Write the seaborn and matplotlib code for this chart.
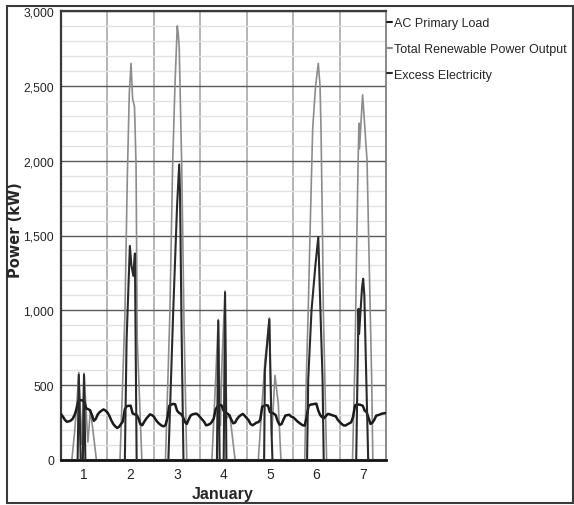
import matplotlib
matplotlib.use("Agg")
import matplotlib.pyplot as plt
from matplotlib import font_manager
from matplotlib.patches import Rectangle
from matplotlib.ticker import MultipleLocator, FixedLocator, FuncFormatter
import seaborn as sns
import pandas as pd

# ---------------- data ----------------
day_labels = ["1", "2", "3", "4", "5", "6", "7"]
series_names = ["AC Primary Load", "Total Renewable Power Output", "Excess Electricity"]

# AC primary load, hourly, hour 0 .. 168 (kW)
load_kw = [
    305, 290, 268, 256, 258, 263, 275, 300, 340, 397, 400, 398, 392, 345, 340, 332, 300, 262, 275, 305, 320, 330, 338, 330,
    318, 295, 265, 241, 225, 214, 222, 240, 258, 340, 360, 362, 363, 312, 305, 303, 280, 240, 232, 255, 275, 290, 305, 300,
    290, 268, 252, 240, 230, 225, 232, 280, 363, 370, 375, 372, 330, 315, 308, 290, 255, 241, 270, 297, 305, 308, 310, 300,
    285, 270, 255, 232, 235, 241, 255, 280, 340, 360, 368, 365, 330, 318, 310, 300, 270, 245, 250, 274, 290, 300, 308, 295,
    280, 265, 240, 232, 240, 250, 252, 270, 355, 363, 366, 364, 320, 315, 310, 300, 260, 235, 240, 270, 297, 300, 302, 290,
    285, 274, 260, 250, 240, 232, 230, 290, 363, 370, 372, 375, 376, 330, 300, 285, 280, 295, 308, 305, 300, 296, 292, 270,
    255, 242, 232, 230, 238, 245, 252, 290, 365, 372, 370, 368, 362, 330, 319, 280, 241, 250, 270, 297, 300, 305, 310, 312,
    314,
]
load_hours = list(range(len(load_kw)))

# Total renewable power output (hour, kW)
renew_hours = [0, 5.6, 7.0, 8.2, 9.2, 10.0, 10.8, 11.9, 13.9, 15.2, 16.5, 18.3,
               30.5, 33.0, 34.3, 35.3, 36.2, 37.0, 38.0, 38.8, 39.4, 41.8,
               54.0, 56.3, 57.7, 58.9, 60.1, 60.6, 61.1, 62.4, 63.6, 65.0,
               78.0, 79.8, 81.3, 82.4, 83.3, 84.8, 85.6, 87.3, 90.0,
               102.0, 105.4, 107.7, 108.9, 110.6, 112.3, 113.7,
               126.0, 126.8, 127.8, 128.7, 130.1, 131.6, 133.0, 133.9, 134.4, 135.2, 135.6, 136.4, 137.3,
               150.7, 152.0, 152.8, 153.6, 154.0, 154.3, 155.9, 156.4, 158.2, 159.5, 160.6, 161.2, 168]
renew_kw = [0, 0, 180, 380, 585, 330, 105, 580, 120, 335, 200, 0,
            0, 950, 1900, 2450, 2650, 2415, 2360, 1970, 810, 0,
            0, 990, 1970, 2500, 2900, 2850, 2760, 1970, 900, 0,
            0, 500, 940, 230, 680, 1130, 280, 300, 0,
            0, 660, 950, 160, 565, 380, 0,
            0, 540, 1000, 1500, 2214, 2500, 2650, 2500, 2214, 1500, 1000, 540, 0,
            0, 700, 1400, 2000, 2250, 2080, 2440, 2350, 2000, 1200, 540, 0, 0]

# Excess electricity (hour, kW)
excess_hours = [0, 8.6, 9.2, 10.2, 11.3, 11.9, 12.6,
                33.0, 33.9, 35.6, 36.4, 37.4, 38.2, 39.1,
                55.5, 58.0, 60.0, 61.1, 61.5, 62.4, 63.3,
                80.6, 81.3, 82.0, 84.1, 84.8, 85.5,
                105.0, 105.4, 107.7, 108.9, 109.3,
                127.2, 127.8, 129.5, 131.5, 133.0, 134.1, 135.2, 135.8,
                152.6, 153.8, 154.1, 155.6, 156.2, 156.8, 158.8, 168]
excess_kw = [0, 0, 570, 0, 0, 570, 0,
             0, 800, 1430, 1300, 1230, 1380, 0,
             0, 990, 1700, 1975, 1800, 800, 0,
             0, 930, 0, 0, 1120, 0,
             0, 600, 940, 160, 0,
             0, 540, 1000, 1300, 1490, 1000, 540, 0,
             0, 1010, 843, 1150, 1211, 1100, 0, 0]

# ---------------- style ----------------
sns.set_style("white")
avail = {f.name for f in font_manager.fontManager.ttflist}
narrow = "Liberation Sans Narrow" if "Liberation Sans Narrow" in avail else "Liberation Sans"
plt.rcParams["font.family"] = [narrow, "DejaVu Sans"]

fig = plt.figure(figsize=(5.74, 5.06), dpi=100)
W, H = 574, 506
ax = fig.add_axes([61 / W, 1 - 461 / H, (386 - 61) / W, (461 - 12) / H])

df_load = pd.DataFrame({"hour": load_hours, "kW": load_kw})
df_ren = pd.DataFrame({"hour": renew_hours, "kW": renew_kw})
df_exc = pd.DataFrame({"hour": excess_hours, "kW": excess_kw})

sns.lineplot(data=df_ren, x="hour", y="kW", ax=ax, color="#8c8c8c", lw=1.2,
             estimator=None, sort=False, label=series_names[1], zorder=3)
sns.lineplot(data=df_load, x="hour", y="kW", ax=ax, color="#1a1a1a", lw=1.8,
             estimator=None, sort=False, label=series_names[0], zorder=4)
sns.lineplot(data=df_exc, x="hour", y="kW", ax=ax, color="#2a2a2a", lw=1.5,
             estimator=None, sort=False, label=series_names[2], zorder=5)

ax.set_xlim(0, 168)
ax.set_ylim(0, 3000)

# y axis
ax.yaxis.set_major_locator(MultipleLocator(500))
ax.yaxis.set_minor_locator(MultipleLocator(100))
ax.yaxis.set_major_formatter(FuncFormatter(lambda v, p: f"{int(v):,}"))
ax.grid(True, axis="y", which="major", color="#5a5a5a", lw=1.0)
ax.grid(True, axis="y", which="minor", color="#e2e2e2", lw=1.0)
ax.tick_params(axis="y", which="major", length=4, width=1, color="#444",
               labelsize=8.8, pad=1)
ax.tick_params(axis="y", which="minor", length=2.5, width=1, color="#555")

# x axis: gridlines at day boundaries, labels at noon
ax.xaxis.set_major_locator(FixedLocator([24 * i for i in range(1, 7)]))
ax.xaxis.set_minor_locator(FixedLocator([24 * i + 12 for i in range(7)]))
ax.xaxis.set_major_formatter(FuncFormatter(lambda v, p: ""))
ax.xaxis.set_minor_formatter(FuncFormatter(lambda v, p: day_labels[int(v // 24)]))
ax.grid(True, axis="x", which="major", color="#b0b0b0", lw=1.3)
ax.tick_params(axis="x", which="major", length=3, color="#666")
ax.tick_params(axis="x", which="minor", length=0, labelsize=10, pad=5)
ax.set_axisbelow(True)

for s in ["left", "top"]:
    ax.spines[s].set_color("#3a3a3a")
    ax.spines[s].set_linewidth(1.6)
ax.spines["right"].set_color("#777777")
ax.spines["right"].set_linewidth(1.2)
ax.spines["bottom"].set_color("#111111")
ax.spines["bottom"].set_linewidth(2.0)

ax.set_xlabel("")
ax.set_ylabel("")
fig.text(16 / W, 1 - 230 / H, "Power (kW)", rotation=90, ha="center", va="center",
         fontsize=10.5, fontweight="bold", family=["DejaVu Sans"])
fig.text(223 / W, 1 - 495 / H, "January", ha="center", va="center",
         fontsize=11.5, fontweight="bold")

# legend
handles, labels = ax.get_legend_handles_labels()
order = [labels.index(n) for n in series_names]
leg = ax.legend([handles[i] for i in order], [labels[i] for i in order],
                loc="upper left", bbox_to_anchor=(0.983, 1.0), frameon=False,
                handlelength=0.4, handletextpad=0.15, borderaxespad=0.0,
                borderpad=0.5, labelspacing=1.1, fontsize=9)
for lh in leg.get_lines():
    lh.set_linewidth(1.5)

# outer frame
fig.patches.append(Rectangle((7 / W, 1 - 504 / H), (573 - 7) / W, (504 - 7) / H,
                             transform=fig.transFigure, fill=False,
                             ec="#3a3a3a", lw=1.5))

fig.savefig("out.png", dpi=100)
